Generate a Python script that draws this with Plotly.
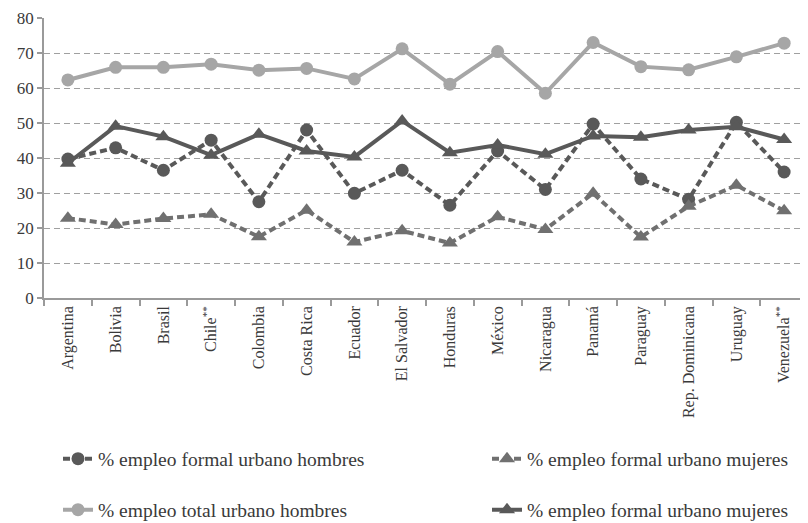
import plotly.graph_objects as go

paises = ["Argentina", "Bolivia", "Brasil", "Chile**", "Colombia", "Costa Rica", "Ecuador",
          "El Salvador", "Honduras", "México", "Nicaragua", "Panamá", "Paraguay",
          "Rep. Dominicana", "Uruguay", "Venezuela**"]
etiquetas = ["Argentina", "Bolivia", "Brasil", "Chile<sup>**</sup>", "Colombia", "Costa Rica", "Ecuador",
             "El Salvador", "Honduras", "México", "Nicaragua", "Panamá", "Paraguay",
             "Rep. Dominicana", "Uruguay", "Venezuela<sup>**</sup>"]

formal_hombres = [39.7, 42.9, 36.5, 45.1, 27.5, 48.0, 29.9, 36.5, 26.5, 42.0, 31.0, 49.7, 34.0, 28.2, 50.2, 36.0]
formal_mujeres_b = [22.8, 21.0, 22.7, 23.9, 17.5, 25.1, 16.0, 19.2, 15.7, 23.2, 19.6, 29.9, 17.4, 26.2, 32.2, 24.9]
total_hombres = [62.3, 65.9, 65.9, 66.8, 65.1, 65.6, 62.6, 71.2, 61.1, 70.4, 58.5, 73.0, 66.1, 65.2, 68.9, 72.8]
formal_mujeres = [38.5, 49.1, 46.1, 40.8, 46.8, 42.0, 40.3, 50.6, 41.5, 43.7, 41.1, 46.3, 45.9, 48.0, 48.9, 45.3]

nombres = ["% empleo formal urbano hombres", "% empleo formal urbano mujeres",
           "% empleo total urbano hombres", "% empleo formal urbano mujeres"]

DARK = "#595959"
MID = "#707070"
LIGHT = "#A6A6A6"
TXT = "#3a3a3a"
FONT = "Liberation Serif"

fig = go.Figure()
fig.add_trace(go.Scatter(x=paises, y=formal_hombres, name=nombres[0], mode="lines+markers",
                         line=dict(color=DARK, width=4, dash="7px,4px"),
                         marker=dict(symbol="circle", size=13, color=DARK), legend="legend"))
fig.add_trace(go.Scatter(x=paises, y=formal_mujeres_b, name=nombres[1], mode="lines+markers",
                         line=dict(color=MID, width=4, dash="7px,4px"),
                         marker=dict(symbol="triangle-up", size=14, color=MID), legend="legend2"))
fig.add_trace(go.Scatter(x=paises, y=total_hombres, name=nombres[2], mode="lines+markers",
                         line=dict(color=LIGHT, width=4),
                         marker=dict(symbol="circle", size=13, color=LIGHT), legend="legend3"))
fig.add_trace(go.Scatter(x=paises, y=formal_mujeres, name=nombres[3], mode="lines+markers",
                         line=dict(color=DARK, width=4),
                         marker=dict(symbol="triangle-up", size=14, color=DARK), legend="legend4"))

# page has an 8px body margin; plot area lands at page x 44..808, y 18..297.7
def px_x(p):
    return (p - 44) / 764.0

def px_y(p):
    return (297.7 - p) / 279.7

leg_common = dict(orientation="h", xanchor="left", yanchor="middle",
                  font=dict(family=FONT, size=19.5, color=TXT),
                  bgcolor="rgba(0,0,0,0)")

FIG_H = 545
fig.update_layout(
    width=800, height=FIG_H,
    margin=dict(l=36, r=0, t=10, b=FIG_H - 10 - 279.7),
    paper_bgcolor="white", plot_bgcolor="white",
    font=dict(family=FONT, color=TXT),
    showlegend=True,
    legend=dict(x=px_x(58), y=px_y(458.5), **leg_common),
    legend2=dict(x=px_x(487), y=px_y(458.5), **leg_common),
    legend3=dict(x=px_x(58), y=px_y(509.5), **leg_common),
    legend4=dict(x=px_x(487), y=px_y(509.5), **leg_common),
    xaxis=dict(
        type="category", tickmode="array", tickvals=paises, ticktext=etiquetas,
        tickangle=-90, tickfont=dict(family=FONT, size=16, color=TXT),
        showline=True, linecolor="#9a9a9a", linewidth=1.5,
        ticks="outside", tickson="boundaries", ticklen=6, tickcolor="#9a9a9a", tickwidth=1.5,
        showgrid=False, range=[-0.5, 15.5], automargin=False,
    ),
    yaxis=dict(
        range=[0, 80], dtick=10, tick0=0,
        tickfont=dict(family=FONT, size=17, color=TXT),
        showline=True, linecolor="#9a9a9a", linewidth=1.5,
        ticks="outside", ticklen=5, tickcolor="#9a9a9a", tickwidth=1.5,
        showgrid=True, gridcolor="#a0a0a0", gridwidth=1, griddash="6px,4px",
        zeroline=False, automargin=False,
    ),
)

fig.write_html("out.html")
